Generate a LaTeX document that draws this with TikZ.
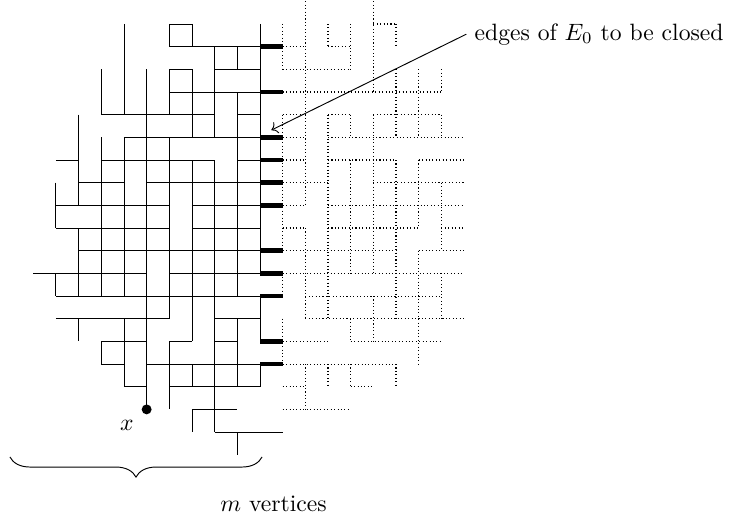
\documentclass[tikz,border=0pt]{standalone}
\usepackage{amsmath}
\usetikzlibrary{positioning, arrows.meta, decorations.pathreplacing}

\begin{document}
\begin{tikzpicture}[x=0.337cm, y=-0.337cm,
    cluster/.style={line width=0.4pt},
    outer/.style={densely dotted, line width=0.45pt},
    cut/.style={line width=2pt},
    dotlbl/.style={font=\normalsize}]
  \useasboundingbox (-1.469,-1.059) rectangle (31.835,21.88);
  % Open edges inside the cluster: horizontal (row/from/to)
  \foreach \r/\a/\b in {0/6/7, 1/6/10, 2/6/7, 2/8/10, 3/6/10, 4/3/8, 4/9/10,
      5/4/10, 6/1/2, 6/3/8, 6/9/10, 7/2/4, 7/5/10, 8/1/6, 8/7/10,
      9/1/6, 9/7/10, 10/2/10, 11/0/5, 11/6/10, 12/1/10, 13/1/6, 13/8/10,
      14/3/5, 14/6/7, 14/8/9, 15/3/4, 15/5/10, 16/4/5, 16/6/10,
      17/7/9, 18/8/11}
    \draw[cluster] (\a,\r) -- (\b,\r);
  % Open edges inside the cluster: vertical (column/from/to)
  \foreach \c/\a/\b in {1/7/9, 1/11/12, 2/4/8, 2/9/12, 2/13/14,
      3/2/4, 3/5/12, 3/14/15, 4/0/4, 4/5/12, 4/13/16, 5/2/17,
      6/0/1, 6/2/4, 6/5/13, 6/14/17, 7/0/1, 7/2/5, 7/6/14, 7/15/16, 7/17/18,
      8/1/5, 8/6/18, 9/1/2, 9/3/12, 9/13/16, 9/18/19,
      10/0/11, 10/12/14, 10/15/16}
    \draw[cluster] (\c,\a) -- (\c,\b);
  % Edges outside: horizontal
  \foreach \r/\a/\b in {0/15/16, 1/11/12, 1/13/14, 2/11/14, 3/11/18,
      4/11/12, 4/13/14, 4/15/18, 5/11/12, 5/13/19, 6/11/12, 6/13/16, 6/17/19,
      7/11/13, 7/15/19, 8/11/12, 8/13/19, 9/11/12, 9/13/17, 9/18/19,
      10/11/16, 10/17/19, 11/11/19, 12/12/18, 13/12/19, 14/11/13, 14/14/18,
      15/11/16, 16/11/12, 16/14/15, 17/11/14}
    \draw[outer] (\a,\r) -- (\b,\r);
  % Edges outside: vertical
  \foreach \c/\a/\b in {11/0/2, 11/4/10, 11/11/12, 11/13/15,
      12/-1/8, 12/9/13, 12/15/17, 13/0/1, 13/4/13, 13/15/16,
      14/0/2, 14/4/5, 14/6/11, 14/13/14, 14/15/16,
      15/-1/3, 15/4/11, 15/12/14, 16/0/1, 16/2/5, 16/6/13, 16/15/16,
      17/2/5, 17/6/9, 17/10/15, 18/2/3, 18/4/5, 18/7/10, 18/11/13}
    \draw[outer] (\c,\a) -- (\c,\b);
  % Edges of E_0 (to be closed)
  \foreach \r in {1,3,5,6,7,8,10,11,12,14,15}
    \draw[cut] (10,\r) -- (11,\r);
  % Vertex x
  \fill (5,17) circle (2.1pt) coordinate (vx);
  \node[dotlbl, below left=1pt and 2pt of vx] (xlbl) {$x$};
  % Label and arrow
  \coordinate (tgt) at (10.5,4.68);
  \node[anchor=west] (elbl) at (19.1,0.45) {edges of $E_0$ to be closed};
  \draw[->] (elbl.west) -- (tgt);
  % Brace
  \draw[decorate, decoration={brace, mirror, amplitude=8.5pt}]
    (-1.03,19.1) -- (10.09,19.1) coordinate[pos=0.5] (bmid);
  \node (mlbl) at (10.6,21.15) {$m$ vertices};
\end{tikzpicture}
\end{document}
